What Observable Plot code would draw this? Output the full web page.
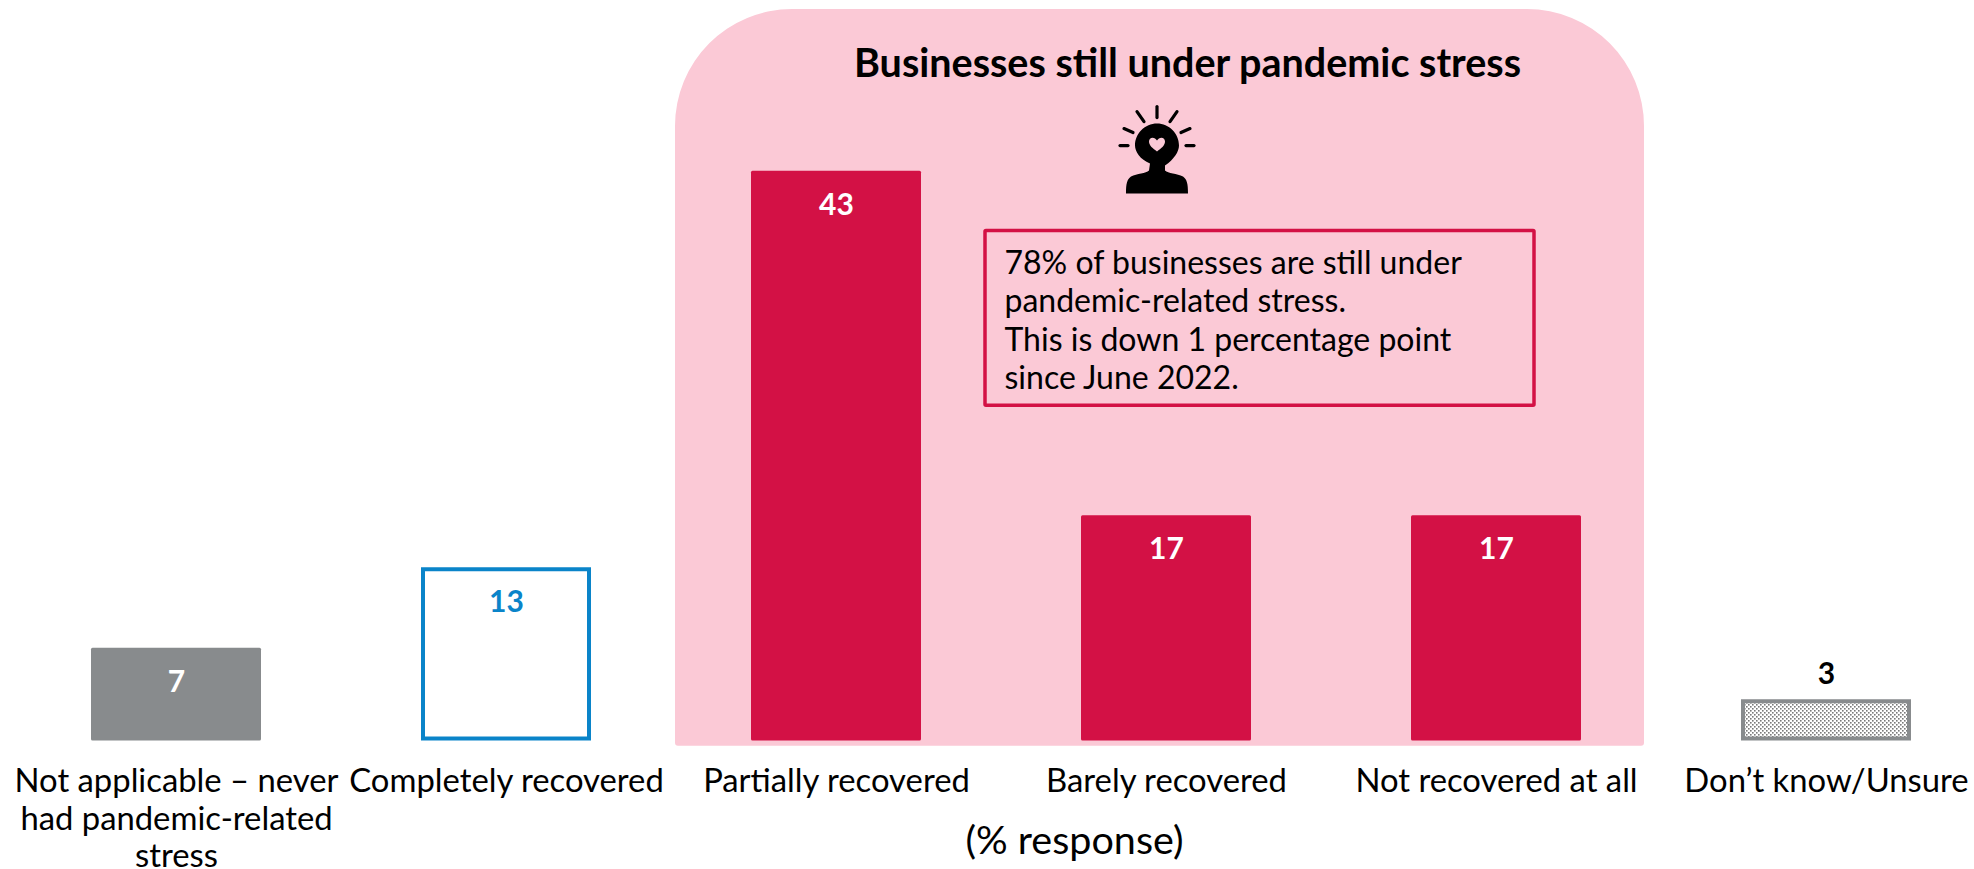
<!DOCTYPE html>
<html>
<head>
<meta charset="utf-8">
<script src="https://cdn.jsdelivr.net/npm/d3@7"></script>
<script src="https://cdn.jsdelivr.net/npm/@observablehq/plot@0.6"></script>
<style>
html,body{margin:0;padding:0;background:#fff;overflow:hidden}
svg{display:block;overflow:visible}
</style>
</head>
<body>
<div id="chart"></div>
<script>
const categories = [
  "Not applicable \u2013 never\nhad pandemic-related\nstress",
  "Completely recovered",
  "Partially recovered",
  "Barely recovered",
  "Not recovered at all",
  "Don\u2019t know/Unsure"
];
const values = [7, 13, 43, 17, 17, 3];
const stressed = categories.slice(2, 5);
const titleText = "Businesses still under pandemic stress";
const noteLines = [
  "78% of businesses are still under",
  "pandemic-related stress.",
  "This is down 1 percentage point",
  "since June 2022."
];
const axisTitle = "(% response)";

const PINK = "#fbc9d6", RED = "#d31145", GREY = "#888b8d", BLUE = "#0a84c9";
const FONT = "Lato, 'Open Sans', sans-serif";
const rows = categories.map((c, i) => ({c, v: values[i]}));
const ns = "http://www.w3.org/2000/svg";
const el = (tag, attrs, parent) => {
  const e = document.createElementNS(ns, tag);
  for (const k in attrs) e.setAttribute(k, attrs[k]);
  if (parent) parent.appendChild(e);
  return e;
};

// Dotted pattern for the "Don't know" bar
const patternMark = () => {
  const defs = el("defs", {});
  const p = el("pattern", {id: "dots", width: 4, height: 4, patternUnits: "userSpaceOnUse"}, defs);
  el("rect", {width: 4, height: 4, fill: "#fff"}, p);
  el("rect", {x: 0, y: 0, width: 1.6, height: 1.6, fill: "#7a7a7a"}, p);
  el("rect", {x: 2, y: 2, width: 1.6, height: 1.6, fill: "#7a7a7a"}, p);
  return defs;
};

// Pink panel with big rounded top corners, anchored to the scales
const panelMark = (index, {x, y}) => {
  const l = x(stressed[0]) - 76, r = x(stressed[2]) + 170 + 63;
  const t = y(55.2), b = y(-0.4), R = 117, q = 3;
  return el("path", {
    fill: PINK,
    d: `M${l},${t + R}A${R},${R} 0 0 1 ${l + R},${t}H${r - R}A${R},${R} 0 0 1 ${r},${t + R}V${b - q}Q${r},${b} ${r - q},${b}H${l + q}Q${l},${b} ${l},${b - q}Z`
  });
};

// Callout frame
const calloutMark = (index, {x, y}) => {
  const l = x(stressed[1]) - 96, r = x(stressed[2]) + 123;
  return el("rect", {
    x: l, y: y(38.5), width: r - l, height: y(25.3) - y(38.5),
    fill: "none", stroke: RED, "stroke-width": 3.5, rx: 1
  });
};

// Head icon with heart and rays
const iconMark = (index, {x, y}) => {
  const g = el("g", {transform: `translate(${x(stressed[1]) + 76},${y(44.9)})`});
  el("path", {
    fill: "#000",
    d: "M-7,18 C-17,14 -22,6 -22,0 C-22,-12 -12,-22 0,-22 C12,-22 22,-12 22,0 C22,6 17,14 8,20 L8,25 C11,28 20,28 26,31 C30,34 31,38 31,48 L-31,48 C-31,38 -30,34 -26,31 C-20,28 -11,28 -8,25 Z"
  }, g);
  el("path", {
    fill: PINK,
    d: "M0,6 C-4,3 -8,0 -8,-4 C-8,-9 -2,-9 0,-5 C2,-9 8,-9 8,-4 C8,0 4,3 0,6 Z"
  }, g);
  [[-37, 0, -29, 0], [37, 0, 29, 0], [-33, -17, -24, -13], [33, -17, 24, -13],
   [-20, -34, -13, -24], [20, -34, 13, -24], [0, -39, 0, -28]].forEach(([a, b, c, d]) =>
    el("line", {x1: a, y1: b, x2: c, y2: d, stroke: "#000", "stroke-width": 3.2, "stroke-linecap": "round"}, g));
  return g;
};

const chart = Plot.plot({
  width: 1974,
  height: 869,
  marginTop: 0,
  marginLeft: 0,
  marginRight: 0,
  marginBottom: 128.5,
  style: {fontFamily: FONT, fontSize: "30px", background: "#fff", color: "#000"},
  x: {type: "band", domain: categories, range: [91, 1911], paddingInner: 0.485, paddingOuter: 0, label: null},
  y: {domain: [0, 55.887], axis: null},
  marks: [
    patternMark,
    panelMark,
    Plot.barY(rows.filter(d => d.c === categories[0] || stressed.includes(d.c)), {
      x: "c", y: "v",
      fill: d => d.c === categories[0] ? GREY : RED,
      rx: 1.5
    }),
    Plot.barY(rows.slice(1, 2), {x: "c", y: "v", fill: "#fff", stroke: BLUE, strokeWidth: 4, insetLeft: 2, insetRight: 2, insetBottom: 2, insetTop: 1}),
    Plot.barY(rows.slice(5, 6), {x: "c", y: "v", fill: "url(#dots)", stroke: GREY, strokeWidth: 4, insetLeft: 2, insetRight: 2, insetBottom: 2, insetTop: 0.5}),
    calloutMark,
    iconMark,
    Plot.text(rows.slice(0, 5), {
      x: "c", y: "v", text: d => String(d.v), dy: 34,
      fill: d => d.c === categories[1] ? BLUE : "#fff",
      fontWeight: 700, fontSize: 30
    }),
    Plot.text(rows.slice(5, 6), {
      x: "c", y: "v", text: d => String(d.v), dy: -27,
      fill: "#000", fontWeight: 700, fontSize: 30
    }),
    Plot.text([titleText], {
      x: () => stressed[1], y: () => 51.05, dx: 21, text: d => d,
      fill: "#000", fontWeight: 700, fontSize: 39.5
    }),
    Plot.text([noteLines.join("\n")], {
      x: () => stressed[1], y: () => 37.3, dx: -162, text: d => d,
      textAnchor: "start", lineAnchor: "top", lineHeight: 1.2,
      fill: "#000", fontSize: 32
    }),
    Plot.axisX({
      anchor: "bottom", tickSize: 0, tickPadding: 24.5, label: null,
      fontSize: 32.8, lineHeight: 1.145, lineAnchor: "top", fill: "#000",
      tickFormat: d => d
    }),
    Plot.text([axisTitle], {
      x: () => stressed[1], y: () => -7.6, dx: -92, text: d => d,
      fill: "#000", fontSize: 39.5
    })
  ]
});
document.getElementById("chart").appendChild(chart);
</script>
</body>
</html>
